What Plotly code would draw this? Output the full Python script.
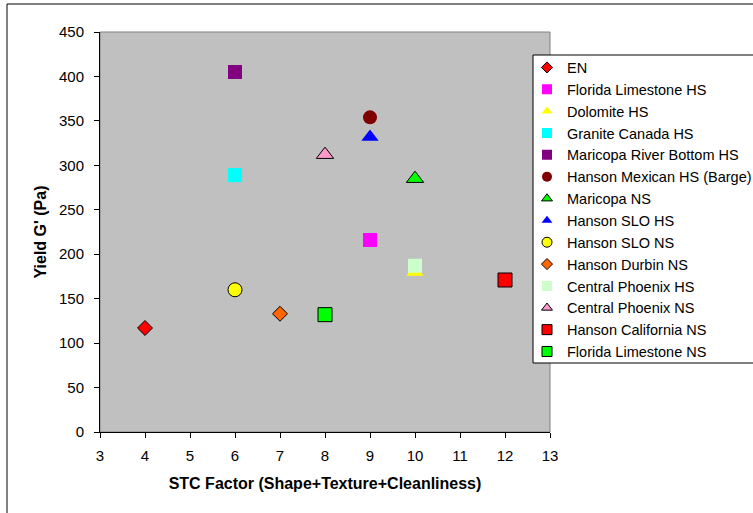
import plotly.graph_objects as go

# ---- data ----
names = ["EN", "Florida Limestone HS", "Dolomite HS", "Granite Canada HS",
         "Maricopa River Bottom HS", "Hanson Mexican HS (Barge)", "Maricopa NS",
         "Hanson SLO HS", "Hanson SLO NS", "Hanson Durbin NS", "Central Phoenix HS",
         "Central Phoenix NS", "Hanson California NS", "Florida Limestone NS"]
stc_factor = [4, 9, 10, 6, 6, 9, 10, 9, 6, 7, 10, 8, 12, 8]
yield_g = [117, 216, 180, 289, 405, 354, 285, 332, 160, 133, 187, 312, 171, 132]

x_ticks = [3, 4, 5, 6, 7, 8, 9, 10, 11, 12, 13]
y_ticks = [0, 50, 100, 150, 200, 250, 300, 350, 400, 450]

# ---- styles ----
symbols = ["diamond", "square", "triangle-up", "square", "square", "circle", "triangle-up",
           "triangle-up", "circle", "diamond", "square", "triangle-up", "square", "square"]
colors = ["#FF0000", "#FF00FF", "#FFFF00", "#00FFFF", "#800080", "#800000", "#00FF00",
          "#0000FF", "#FFFF00", "#FF6600", "#CCFFCC", "#FF99CC", "#FF0000", "#00FF00"]
outlined = [True, False, False, False, False, False, True,
            False, True, True, False, True, True, True]
sizes = {"diamond": 11.5, "square": 14, "triangle-up": 15, "circle": 14}
legend_sizes = {"diamond": 8.5, "square": 10, "triangle-up": 9.5, "circle": 10}

FONT = "Arial, Liberation Sans, sans-serif"

fig = go.Figure()
# plotted points
for n, xv, yv, s, c, o in zip(names, stc_factor, yield_g, symbols, colors, outlined):
    fig.add_trace(go.Scatter(
        x=[xv], y=[yv], mode="markers", name=n, showlegend=False,
        marker=dict(symbol=s, color=c, size=sizes[s],
                    line=dict(color="#000000" if o else c, width=1 if o else 0)),
    ))
# legend entries (smaller key markers as in the original)
for n, s, c, o in zip(names, symbols, colors, outlined):
    fig.add_trace(go.Scatter(
        x=[None], y=[None], mode="markers", name=n, showlegend=True,
        marker=dict(symbol=s, color=c, size=legend_sizes[s],
                    line=dict(color="#000000" if o else c, width=1 if o else 0)),
    ))

W, H = 753, 513
L, R, T, B = 100, 203, 32, 81
pw, ph = W - L - R, H - T - B

def px_x(p):
    return (p - L) / pw

def px_y(p):
    return (H - B - p) / ph

fig.update_layout(
    width=W, height=H,
    margin=dict(l=L, r=R, t=T, b=B, autoexpand=False),
    paper_bgcolor="white",
    plot_bgcolor="#C0C0C0",
    font=dict(family=FONT, size=15, color="#000000"),
    showlegend=True,
    legend=dict(
        x=px_x(527), y=px_y(51.5), xanchor="left", yanchor="top",
        bgcolor="rgba(0,0,0,0)", borderwidth=0,
        font=dict(family=FONT, size=14.5, color="#000000"),
        itemsizing="trace",
    ),
    xaxis=dict(
        range=[3, 13], tickvals=x_ticks, ticktext=[str(v) for v in x_ticks],
        showgrid=False, zeroline=False, showline=True, linecolor="#000000", linewidth=1,
        ticks="outside", ticklen=5, tickcolor="#000000", ticklabelstandoff=5,
        tickfont=dict(family=FONT, size=15),
        title=dict(text="<b>STC Factor (Shape+Texture+Cleanliness)</b>",
                   font=dict(family=FONT, size=16), standoff=14),
    ),
    yaxis=dict(
        range=[0, 450], tickvals=y_ticks, ticktext=[str(v) for v in y_ticks],
        showgrid=False, zeroline=False, showline=True, linecolor="#000000", linewidth=1,
        ticks="outside", ticklen=5, tickcolor="#000000", ticklabelstandoff=7,
        tickfont=dict(family=FONT, size=15),
        title=dict(text="<b>Yield G' (Pa)</b>", font=dict(family=FONT, size=16), standoff=8),
    ),
    shapes=[
        dict(type="rect", xref="paper", yref="paper",
             x0=px_x(7), x1=px_x(820), y0=px_y(560), y1=px_y(4),
             line=dict(color="#000000", width=1), fillcolor="rgba(0,0,0,0)", layer="below"),
        dict(type="rect", xref="paper", yref="paper", x0=0, x1=1, y0=0, y1=1,
             line=dict(color="#808080", width=1), fillcolor="rgba(0,0,0,0)", layer="below"),
        dict(type="rect", xref="paper", yref="paper",
             x0=px_x(533), x1=px_x(820), y0=px_y(363), y1=px_y(55),
             line=dict(color="#000000", width=1), fillcolor="#FFFFFF", layer="above"),
    ],
)

fig.write_html("out.html")
